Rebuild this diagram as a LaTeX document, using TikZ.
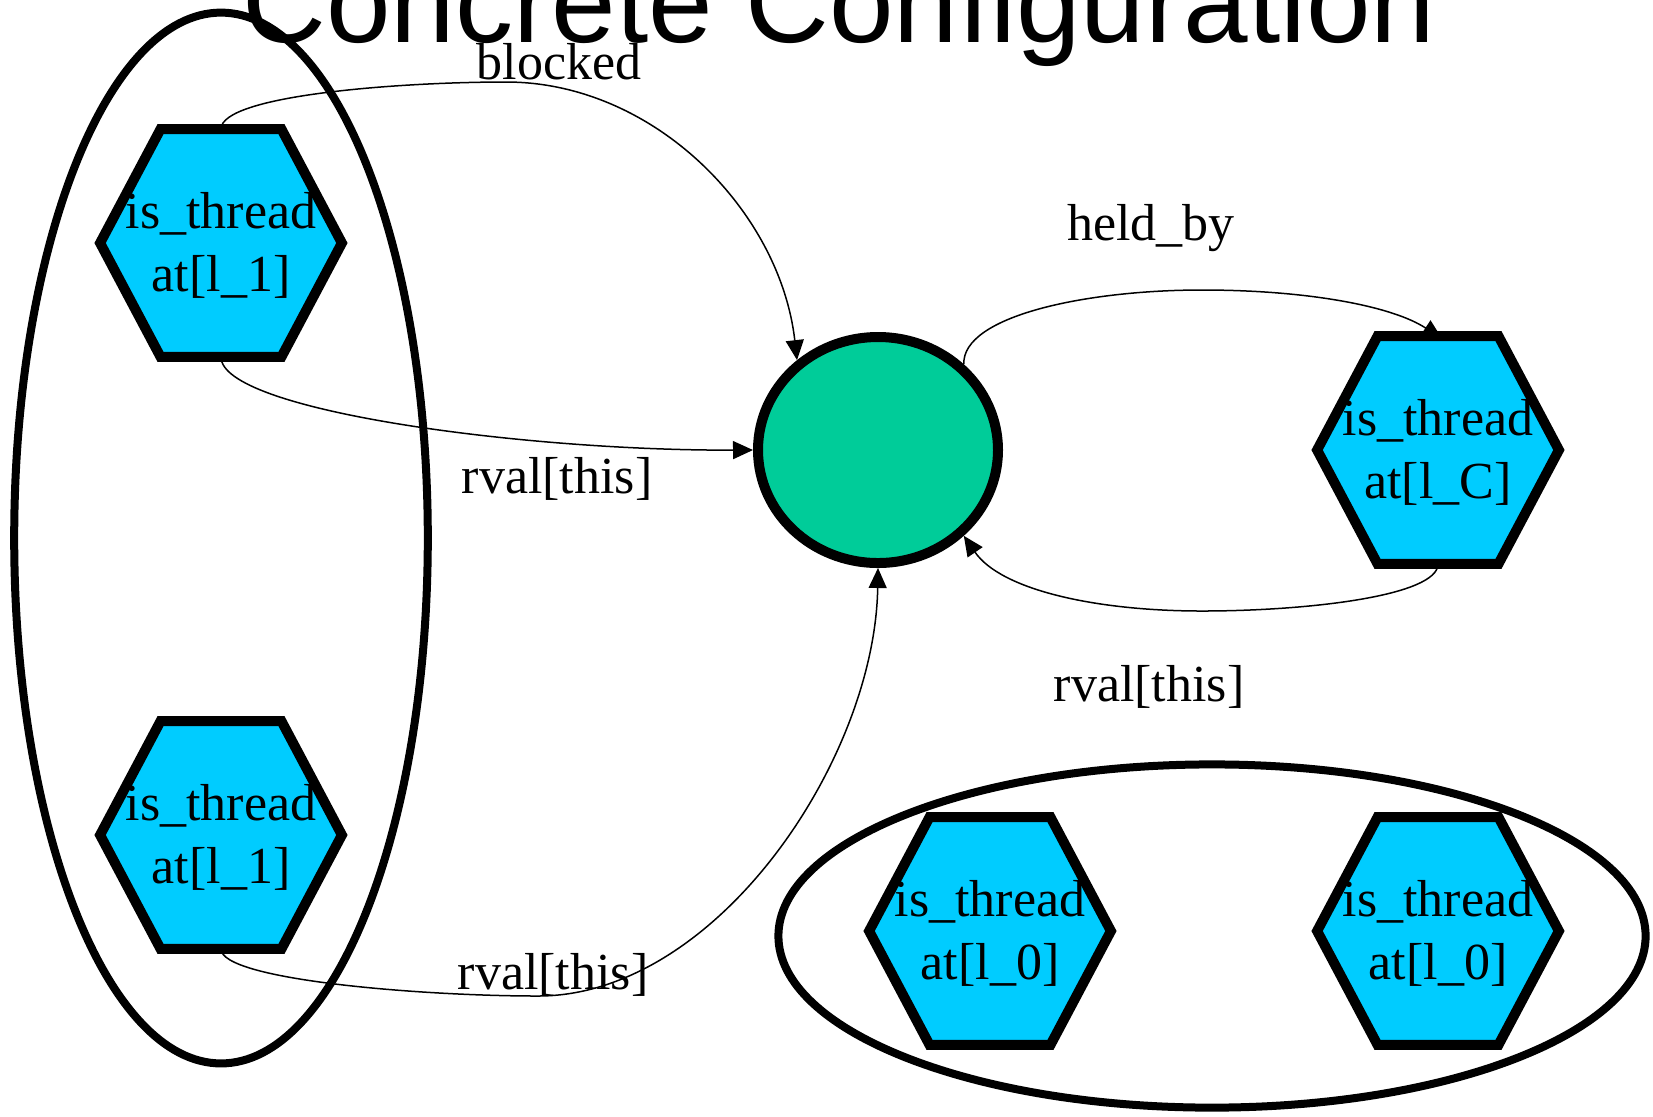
\documentclass[tikz,border=0pt]{standalone}
\usepackage{fontspec}
\setmainfont{Liberation Serif}
\newfontfamily\titlefont{Liberation Sans}
\usetikzlibrary{arrows.meta,backgrounds,calc,shapes.geometric}
\definecolor{threadblue}{RGB}{0,204,255}
\definecolor{lockgreen}{RGB}{0,204,153}
\newcommand{\twolines}[2]{\raisebox{-2.3pt}[\height][\depth]{\begin{tabular}{@{}c@{}}#1\\#2\end{tabular}}}
\begin{document}
\begin{tikzpicture}[x=0.5pt, y=-0.5pt,
  every node/.append style={font=\fontsize{26}{31.5}\selectfont},
  thread/.style={minimum width=120.5pt, minimum height=113.5pt, inner sep=0pt},
  hexline/.style={draw, line width=5pt, fill=threadblue, line join=miter},
  cluster/.style={draw, line width=4pt},
  edge/.style={line width=0.75pt, -{Triangle[length=10pt, width=9pt]}}]
  \useasboundingbox (0,0) rectangle (1653,1116);
  \node[font=\titlefont\fontsize{58}{60}\selectfont, anchor=base] (title) at (839,42) {Concrete Configuration};
  % threads and the lock
  \node[thread] (t1) at (221,243) {\twolines{is\_thread}{at[l\_1]}};
  \node[thread] (t2) at (221,835) {\twolines{is\_thread}{at[l\_1]}};
  \node[thread] (tc) at (1438,450) {\twolines{is\_thread}{at[l\_C]}};
  \node[thread] (b1) at (990,931) {\twolines{is\_thread}{at[l\_0]}};
  \node[thread] (b2) at (1438,931) {\twolines{is\_thread}{at[l\_0]}};
  \node[draw, ellipse, line width=5pt, fill=lockgreen, minimum width=120pt, minimum height=113pt, inner sep=0pt] (lock) at (878,450) {};
  \begin{scope}[on background layer]
    \draw[cluster] (221,538) ellipse [x radius=103.4pt, y radius=262.7pt];
    \draw[cluster] (1212,936) ellipse [x radius=216.8pt, y radius=85.8pt];
    \foreach \n in {t1,t2,tc,b1,b2}
      \draw[hexline] (\n.west) -- ($(\n.north west)!.25!(\n.north east)$) -- ($(\n.north west)!.75!(\n.north east)$) -- (\n.east)
        -- ($(\n.south west)!.75!(\n.south east)$) -- ($(\n.south west)!.25!(\n.south east)$) -- cycle;
  \end{scope}
  % edges
  \draw[edge] (t1.north) .. controls (221,95) and (401,82) .. (506,82) .. controls (654,82) and (780,211) .. (lock.132);
  \draw[edge] (t1.south) .. controls (221,411) and (527,451) .. (lock.west);
  \draw[edge] (t2.south) .. controls (221,980) and (422,996) .. (538,996) .. controls (717,996) and (875,759) .. (lock.south);
  \draw[edge, shorten >=-2.5pt] (lock.45) .. controls (962,316) and (1086,290) .. (1202,290) .. controls (1307,290) and (1392,306) .. (tc.north);
  \draw[edge] (tc.south) .. controls (1438,596) and (1307,611) .. (1202,611) .. controls (1096,611) and (1001,590) .. (lock.-45);
  % edge labels
  \node[anchor=base] (lblocked) at (559,79) {blocked};
  \node[anchor=base] (lheld) at (1151,240) {held\_by};
  \node[anchor=base] (lrvala) at (557,493) {rval[this]};
  \node[anchor=base] (lrvalb) at (1149,701) {rval[this]};
  \node[anchor=base] (lrvalc) at (553,989) {rval[this]};
\end{tikzpicture}
\end{document}
